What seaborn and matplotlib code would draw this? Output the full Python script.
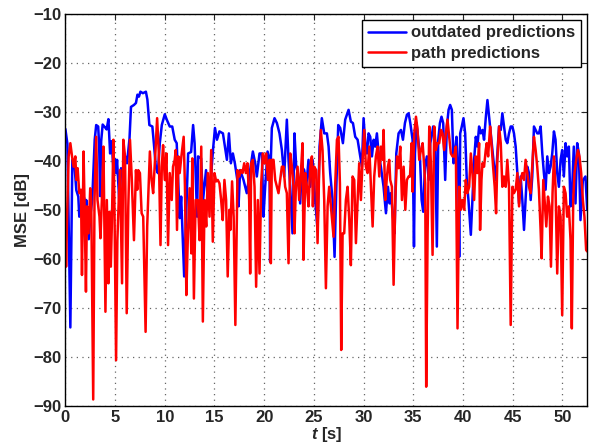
import pandas as pd
import seaborn as sns
from matplotlib import pyplot as plt

# outdated predictions (blue)
blue_t = [0.0, 0.2, 0.5, 0.7, 0.9, 1.1, 1.3, 1.4, 1.7, 1.9, 2.0, 2.1, 2.35, 2.5, 2.7,
          2.95, 3.1, 3.3, 3.4, 3.5, 3.6, 3.75, 4.0, 4.15, 4.33, 4.5, 4.65, 4.83, 5.0,
          5.1, 5.2, 5.45, 5.6, 5.9, 6.0, 6.2, 6.45, 6.6, 6.9, 7.1, 7.25, 7.4, 7.55,
          7.8, 8.1, 8.25, 8.45, 8.75, 8.9, 9.1, 9.3, 9.5, 9.7, 10.0, 10.2, 10.5,
          10.75, 11.0, 11.2, 11.5, 11.65, 11.95, 12.35, 12.65, 12.85, 13.0, 13.25,
          13.35, 13.65, 13.85, 14.15, 14.35, 14.65, 14.85, 15.05, 15.25, 15.5, 15.85,
          16.05, 16.25, 16.45, 16.65, 16.85, 17.05, 17.3, 17.42, 17.58, 17.92, 18.25,
          18.59, 18.86, 19.1, 19.26, 19.53, 19.77, 19.93, 20.1, 20.34, 20.54, 20.6,
          20.67, 20.77, 21.04, 21.28, 21.54, 21.78, 22.01, 22.28, 22.45, 22.62, 22.85,
          23.05, 23.22, 23.39, 23.62, 23.79, 24.03, 24.23, 24.46, 24.63, 24.87, 25.13,
          25.37, 25.57, 25.8, 26.04, 26.31, 26.48, 26.64, 26.88, 27.08, 27.25, 27.45,
          27.65, 27.92, 28.15, 28.49, 28.72, 28.93, 29.16, 29.4, 29.66, 29.83, 30.0,
          30.17, 30.34, 30.5, 30.67, 30.84, 31.01, 31.17, 31.34, 31.51, 31.74, 32.01,
          32.25, 32.45, 32.62, 32.75, 32.95, 33.12, 33.29, 33.52, 33.76, 33.96, 34.16,
          34.36, 34.53, 34.7, 34.93, 35.07, 35.17, 35.33, 35.5, 35.67, 35.84, 36.0,
          36.17, 36.37, 36.54, 36.71, 36.84, 37.0, 37.21, 37.37, 37.51, 37.68, 37.84,
          38.01, 38.21, 38.38, 38.55, 38.71, 38.88, 39.05, 39.21, 39.35, 39.52, 39.62,
          39.72, 39.88, 40.05, 40.22, 40.38, 40.55, 40.79, 40.95, 41.12, 41.29, 41.45,
          41.62, 41.79, 41.96, 42.12, 42.29, 42.46, 42.63, 42.79, 42.96, 43.13, 43.29,
          43.46, 43.63, 43.8, 43.96, 44.13, 44.3, 44.46, 44.63, 44.8, 44.97, 45.13,
          45.3, 45.47, 45.64, 45.8, 45.97, 46.14, 46.3, 46.47, 46.64, 46.81, 46.97,
          47.14, 47.31, 47.47, 47.64, 47.81, 47.98, 48.14, 48.31, 48.48, 48.65, 48.81,
          48.98, 49.15, 49.31, 49.48, 49.65, 49.82, 49.98, 50.15, 50.32, 50.48, 50.65,
          50.82, 50.99, 51.15, 51.32, 51.49, 51.66, 51.82, 52.06, 52.32, 52.5]
blue_v = [-33.5, -36.5, -74.0, -39.8, -40.5, -46.0, -47.3, -51.4, -48.0, -47.6, -51.4,
          -48.0, -56.0, -51.4, -48.0, -35.7, -32.7, -33.0, -37.0, -47.2, -36.0, -32.6,
          -33.2, -33.6, -31.5, -38.5, -36.0, -41.5, -39.7, -42.5, -39.8, -49.5, -41.5,
          -42.5, -39.0, -40.5, -35.5, -29.0, -28.6, -28.2, -26.5, -26.9, -25.9, -26.2,
          -25.9, -27.5, -32.7, -33.0, -36.4, -41.2, -42.5, -36.4, -32.7, -30.5, -31.6,
          -33.0, -33.0, -35.7, -36.4, -51.7, -47.3, -63.6, -38.5, -38.2, -32.7, -36.4,
          -51.4, -39.1, -39.5, -48.0, -41.9, -48.0, -43.2, -37.8, -33.3, -35.7, -34.0,
          -34.4, -37.1, -39.8, -34.4, -40.5, -38.5, -40.5, -43.9, -49.3, -41.9, -43.9,
          -46.6, -41.9, -38.1, -40.5, -43.2, -38.5, -38.5, -51.4, -45.3, -38.1, -39.8,
          -60.6, -39.8, -33.3, -31.3, -32.3, -34.4, -37.8, -43.2, -31.6, -39.8, -45.3,
          -54.8, -34.4, -41.2, -42.5, -48.7, -41.2, -41.9, -45.3, -39.8, -45.3, -39.8,
          -48.0, -54.1, -37.1, -31.3, -34.4, -34.4, -37.1, -42.5, -48.0, -59.6, -45.9,
          -32.7, -33.3, -36.4, -31.6, -29.6, -32.0, -32.3, -35.1, -35.7, -39.1, -41.2,
          -31.3, -36.4, -38.5, -34.4, -35.1, -39.1, -35.7, -37.1, -34.4, -38.5, -41.2,
          -45.3, -50.7, -45.3, -48.7, -46.6, -51.4, -54.8, -38.5, -34.4, -33.7, -35.7,
          -32.3, -30.6, -30.3, -32.3, -35.7, -57.5, -38.5, -32.3, -35.7, -39.1, -48.0,
          -50.4, -41.2, -39.1, -43.9, -36.4, -35.1, -33.0, -36.4, -57.5, -35.7, -32.3,
          -31.0, -32.3, -43.9, -33.0, -29.6, -28.6, -29.6, -40.5, -37.8, -35.1, -42.5,
          -59.6, -34.4, -33.0, -31.3, -34.4, -43.9, -48.0, -55.1, -48.0, -39.8, -35.1,
          -37.1, -33.0, -34.4, -33.7, -35.7, -31.3, -27.6, -31.0, -34.4, -37.8, -41.2,
          -43.9, -38.5, -33.0, -33.7, -30.3, -33.0, -35.7, -36.4, -34.4, -33.0, -33.0,
          -34.4, -37.1, -42.5, -48.7, -43.2, -48.0, -54.1, -48.0, -41.2, -42.5, -48.0,
          -43.2, -33.0, -33.7, -34.4, -34.4, -33.0, -38.5, -42.5, -45.9, -39.1, -42.5,
          -41.2, -38.5, -34.0, -35.7, -42.5, -45.3, -39.8, -37.8, -43.2, -36.4, -39.1,
          -37.1, -49.3, -45.3, -37.1, -48.7, -36.4, -38.5, -52.1, -44.0, -43.2, -50.0]

# path predictions (red)
red_t = [0.0, 0.07, 0.17, 0.33, 0.5, 0.67, 0.83, 1.0, 1.1, 1.23, 1.4, 1.57, 1.67, 1.83,
         1.93, 2.07, 2.17, 2.33, 2.5, 2.6, 2.8, 2.93, 3.1, 3.23, 3.43, 3.53, 3.67, 3.83,
         4.03, 4.17, 4.33, 4.43, 4.57, 4.67, 4.83, 4.93, 5.1, 5.23, 5.37, 5.5, 5.7,
         5.83, 6.0, 6.17, 6.33, 6.5, 6.67, 6.9, 7.1, 7.23, 7.33, 7.5, 7.67, 7.83, 8.07,
         8.23, 8.5, 8.67, 8.83, 9.0, 9.23, 9.4, 9.57, 9.7, 9.83, 10.0, 10.17, 10.33,
         10.5, 10.7, 10.83, 11.0, 11.1, 11.23, 11.37, 11.5, 11.67, 11.9, 12.03, 12.17,
         12.33, 12.5, 12.67, 12.77, 12.93, 13.1, 13.33, 13.5, 13.67, 13.83, 14.0, 14.17,
         14.33, 14.5, 14.67, 14.83, 15.0, 15.17, 15.33, 15.5, 15.67, 15.83, 16.0, 16.17,
         16.33, 16.5, 16.6, 16.77, 16.93, 17.1, 17.32, 17.48, 17.65, 17.82, 17.99, 18.15,
         18.32, 18.49, 18.59, 18.69, 18.86, 19.03, 19.19, 19.36, 19.53, 19.7, 19.87,
         20.03, 20.2, 20.37, 20.54, 20.67, 20.77, 20.94, 21.11, 21.28, 21.44, 21.61,
         21.78, 21.95, 22.11, 22.28, 22.45, 22.62, 22.79, 22.95, 23.05, 23.19, 23.36,
         23.52, 23.69, 23.86, 23.96, 24.13, 24.3, 24.46, 24.63, 24.8, 24.9, 25.03, 25.23,
         25.37, 25.54, 25.7, 25.87, 26.04, 26.21, 26.38, 26.54, 26.71, 26.98, 27.15,
         27.32, 27.48, 27.62, 27.75, 27.89, 28.05, 28.22, 28.39, 28.56, 28.72, 28.89,
         29.06, 29.23, 29.4, 29.56, 29.73, 29.9, 30.07, 30.23, 30.4, 30.57, 30.74,
         30.91, 31.07, 31.24, 31.41, 31.58, 31.74, 31.91, 32.01, 32.18, 32.35, 32.45,
         32.58, 32.68, 32.85, 33.02, 33.19, 33.36, 33.52, 33.69, 33.86, 34.03, 34.2,
         34.36, 34.53, 34.67, 34.83, 34.93, 35.1, 35.27, 35.43, 35.6, 35.77, 35.94,
         36.1, 36.2, 36.3, 36.44, 36.61, 36.77, 36.94, 37.11, 37.27, 37.44, 37.61,
         37.78, 37.94, 38.11, 38.28, 38.44, 38.61, 38.78, 38.95, 39.11, 39.28, 39.45,
         39.62, 39.78, 39.95, 40.12, 40.28, 40.45, 40.62, 40.79, 40.95, 41.12, 41.29,
         41.45, 41.62, 41.72, 41.86, 41.96, 42.12, 42.29, 42.39, 42.53, 42.73, 42.86,
         43.03, 43.19, 43.33, 43.46, 43.63, 43.8, 43.96, 44.13, 44.3, 44.46, 44.63,
         44.8, 44.97, 45.13, 45.3, 45.47, 45.64, 45.8, 45.97, 46.14, 46.3, 46.47,
         46.64, 46.81, 46.97, 47.14, 47.31, 47.47, 47.64, 47.81, 47.91, 48.08, 48.21,
         48.38, 48.55, 48.71, 48.85, 49.01, 49.15, 49.31, 49.48, 49.65, 49.82, 49.98,
         50.15, 50.32, 50.48, 50.65, 50.82, 50.95, 51.09, 51.22, 51.39, 51.56, 51.72,
         51.89, 52.06, 52.22, 52.39, 52.5]
red_v = [-51.4, -61.6, -51.4, -39.1, -36.4, -39.1, -41.2, -39.1, -43.9, -41.5, -46.6,
         -45.9, -63.3, -38.1, -49.3, -66.7, -49.3, -54.8, -45.6, -48.0, -88.7, -48.0,
         -35.1, -48.0, -51.4, -55.8, -48.0, -37.1, -70.8, -48.0, -65.0, -50.4, -61.6,
         -53.4, -35.7, -48.0, -80.7, -56.2, -48.0, -41.9, -65.0, -35.7, -39.1, -71.1,
         -49.3, -35.7, -43.2, -56.2, -41.9, -45.9, -41.9, -42.5, -50.7, -51.4, -74.9,
         -53.4, -38.1, -43.9, -46.6, -40.5, -31.3, -38.5, -57.2, -41.2, -36.8, -43.9,
         -38.5, -57.2, -42.5, -48.0, -41.2, -39.8, -37.8, -54.1, -39.1, -42.5, -39.1,
         -35.1, -45.3, -67.4, -54.8, -45.6, -58.9, -39.5, -68.1, -48.0, -48.0, -56.2,
         -37.1, -72.8, -48.0, -53.4, -42.5, -51.4, -37.8, -56.5, -42.5, -44.2, -43.9,
         -44.6, -48.0, -52.1, -43.9, -48.0, -63.6, -50.0, -54.1, -44.2, -51.4, -73.5,
         -41.9, -43.2, -41.9, -42.5, -40.5, -42.5, -40.5, -48.0, -63.0, -40.5, -39.8,
         -45.3, -65.7, -48.0, -63.0, -44.6, -38.5, -40.5, -38.5, -43.9, -39.8, -60.9,
         -39.8, -39.8, -43.9, -45.3, -46.6, -43.9, -41.2, -41.2, -45.3, -46.6, -60.9,
         -38.5, -41.2, -45.3, -54.8, -45.3, -41.2, -48.0, -42.5, -36.4, -60.2, -42.5,
         -45.3, -49.3, -41.2, -39.1, -49.3, -41.2, -41.9, -56.8, -41.2, -33.7, -37.8,
         -48.0, -66.0, -49.3, -45.3, -49.3, -55.5, -44.6, -35.7, -35.1, -44.6, -78.6,
         -54.8, -54.8, -48.0, -45.3, -52.1, -61.3, -43.2, -43.9, -56.8, -48.0, -40.5,
         -48.0, -39.8, -33.7, -41.2, -42.5, -37.1, -45.3, -53.4, -43.2, -39.1, -37.1,
         -43.2, -37.1, -39.8, -33.7, -48.0, -43.2, -41.2, -39.8, -43.9, -45.3, -65.3,
         -48.0, -39.1, -41.5, -37.1, -48.0, -41.2, -50.0, -43.9, -43.2, -43.2, -36.4,
         -46.3, -34.4, -31.0, -33.7, -39.8, -37.8, -36.4, -41.2, -44.6, -86.1, -54.8,
         -33.0, -40.5, -59.2, -33.0, -37.8, -36.4, -36.4, -33.7, -34.4, -37.8, -34.4,
         -31.6, -35.1, -38.5, -39.1, -39.1, -37.1, -74.2, -45.3, -50.0, -48.0, -50.0,
         -43.9, -46.6, -45.3, -38.5, -42.5, -48.0, -39.1, -42.5, -36.4, -54.1, -43.9,
         -40.5, -41.2, -37.8, -36.4, -39.1, -33.0, -36.4, -41.2, -45.3, -50.7, -39.8,
         -33.0, -36.4, -45.3, -43.2, -45.3, -39.8, -45.3, -73.5, -45.3, -46.6, -45.9,
         -42.5, -49.3, -43.9, -42.5, -43.9, -39.8, -42.5, -45.3, -46.6, -41.2, -35.1,
         -37.8, -41.2, -45.9, -54.1, -59.9, -43.9, -48.0, -53.4, -47.3, -49.3, -61.6,
         -46.6, -39.1, -45.3, -63.0, -49.3, -51.4, -71.5, -45.3, -46.6, -51.4, -49.3,
         -56.2, -74.2, -48.0, -42.5, -39.8, -37.8, -39.1, -42.5, -48.0, -51.4, -58.2,
         -58.5]

x_ticks = [0, 5, 10, 15, 20, 25, 30, 35, 40, 45, 50]
y_ticks = [-90, -80, -70, -60, -50, -40, -30, -20, -10]

sns.set_style("white")
plt.rcParams['font.family'] = ['Liberation Sans', 'DejaVu Sans']
plt.rcParams['font.weight'] = 'bold'
plt.rcParams['mathtext.fontset'] = 'custom'
plt.rcParams['mathtext.it'] = 'Liberation Sans:italic:bold'
plt.rcParams['mathtext.rm'] = 'Liberation Sans:bold'

df_blue = pd.DataFrame({'t': blue_t, 'mse': blue_v})
df_red = pd.DataFrame({'t': red_t, 'mse': red_v})

fig = plt.figure(figsize=(5.89, 4.45), dpi=100)
ax = fig.add_axes([0.111, 0.088, 0.886, 0.881])

sns.lineplot(data=df_blue, x='t', y='mse', ax=ax, color=(0, 0, 1), lw=1.8,
             sort=False, estimator=None, label='outdated predictions')
sns.lineplot(data=df_red, x='t', y='mse', ax=ax, color=(1, 0, 0), lw=1.8,
             sort=False, estimator=None, label='path predictions')

ax.set_xlim(0, 52.5)
ax.set_ylim(-90, -10)
ax.set_xticks(x_ticks)
ax.set_yticks(y_ticks)
ax.tick_params(direction='in', top=True, right=True, length=4, width=0.8,
               labelsize=12, pad=3)
for lab in ax.get_xticklabels() + ax.get_yticklabels():
    lab.set_fontweight('bold')
ax.grid(True, linestyle=(0, (1, 3.5)), color='0.4', lw=0.9)
for s in ax.spines.values():
    s.set_color('k')
    s.set_linewidth(1.0)

ax.set_xlabel(r'$t$ [s]', fontsize=12, fontweight='bold', labelpad=0)
ax.set_ylabel('MSE [dB]', fontsize=12, fontweight='bold', labelpad=2)

leg = ax.legend(loc='upper right', fontsize=12, frameon=True, fancybox=False,
                edgecolor='k', framealpha=1, borderaxespad=0.35, handlelength=2.3,
                handletextpad=0.3, borderpad=0.35, labelspacing=0.35)
leg.get_frame().set_linewidth(1.0)
for txt in leg.get_texts():
    txt.set_fontweight('bold')

fig.savefig('out.png', dpi=100)
